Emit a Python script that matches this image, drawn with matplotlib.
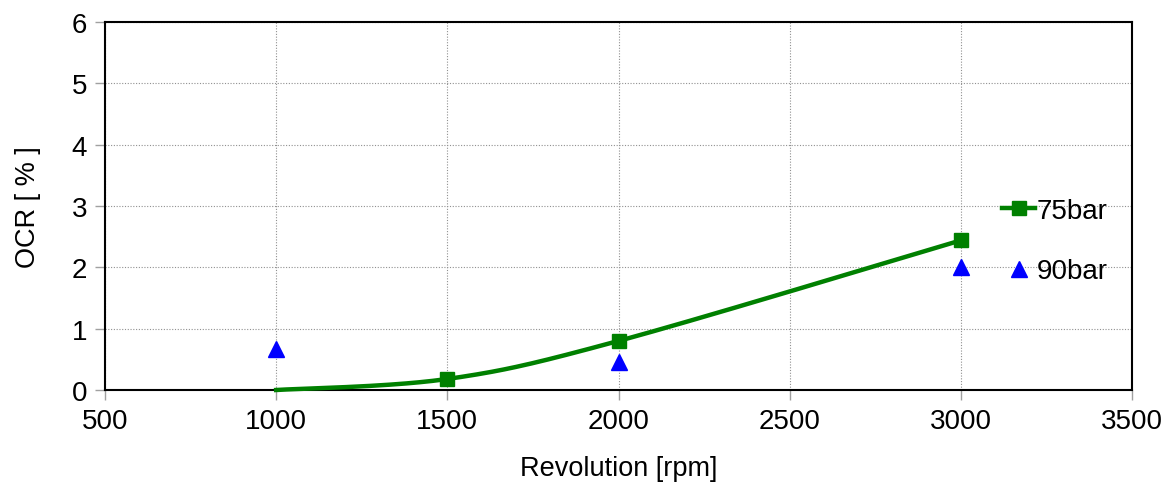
import matplotlib
matplotlib.use("Agg")
import matplotlib.pyplot as plt
import numpy as np
from matplotlib.lines import Line2D

plt.rcParams['font.family'] = ['Liberation Sans', 'DejaVu Sans']

rpm_75 = [1000, 1500, 2000, 3000]
ocr_75 = [0.0, 0.18, 0.80, 2.44]
rpm_90 = [1000, 2000, 3000]
ocr_90 = [0.67, 0.45, 2.00]

GREEN = '#008000'
BLUE = '#0000ff'


def smooth(xs, ys, n=60):
    # excel-like smoothed line (cubic bezier through the points)
    # done in normalized axis units so the shape looks right on screen
    px = (np.array(xs) - 500) / 3000.0 * 2.8
    py = np.array(ys) / 6.0
    P = np.column_stack([px, py])
    P = np.vstack([P[0], P, P[-1]])
    out = []
    for i in range(1, len(P) - 2):
        p0, p1, p2, p3 = P[i - 1], P[i], P[i + 1], P[i + 2]
        c1 = p1 + (p2 - p0) / 6.0
        c2 = p2 - (p3 - p1) / 6.0
        t = np.linspace(0, 1, n)[:, None]
        seg = ((1 - t) ** 3) * p1 + 3 * ((1 - t) ** 2) * t * c1 + 3 * (1 - t) * t ** 2 * c2 + t ** 3 * p2
        out.append(seg)
    out = np.vstack(out)
    return out[:, 0] / 2.8 * 3000.0 + 500, out[:, 1] * 6.0


fig = plt.figure(figsize=(11.69, 4.85), dpi=100)
ax = fig.add_axes([0.0898, 0.1938, 0.8786, 0.7588])

sx, sy = smooth(rpm_75, ocr_75)
ax.plot(sx, sy, color=GREEN, linewidth=3.2, zorder=3, clip_on=False)
ax.plot(rpm_75[1:], ocr_75[1:], linestyle='none', marker='s', markersize=10,
        color=GREEN, zorder=4)
ax.plot(rpm_90, ocr_90, linestyle='none', marker='^', markersize=11,
        color=BLUE, zorder=4)

ax.set_xlim(500, 3500)
ax.set_ylim(0, 6)
ax.set_xticks(np.arange(500, 3501, 500))
ax.set_yticks(np.arange(0, 7, 1))
ax.grid(True, color='#909090', linestyle=(0, (1, 1.5)), linewidth=0.8)
ax.set_axisbelow(True)
for s in ax.spines.values():
    s.set_linewidth(1.5)
    s.set_color('black')
ax.tick_params(axis='both', labelsize=20, color='#a0a0a0', length=7, width=1, pad=6)

ax.set_xlabel('Revolution [rpm]', fontsize=19.5, labelpad=15)
ax.set_ylabel('OCR [ % ]', fontsize=19.5, labelpad=22)

handles = [
    Line2D([], [], color=GREEN, linewidth=3.2, marker='s', markersize=10),
    Line2D([], [], color=BLUE, linestyle='none', marker='^', markersize=11),
]
ax.legend(handles, ['75bar', '90bar'], loc='center left', bbox_to_anchor=(0.849, 0.405),
          frameon=False, fontsize=20, handlelength=1.2, handletextpad=0.05,
          labelspacing=1.25)

fig.savefig('out.png', dpi=100)
